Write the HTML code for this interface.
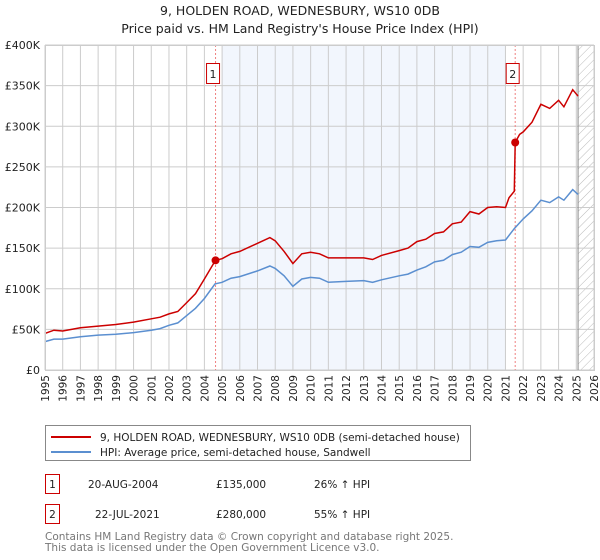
<!DOCTYPE html>
<html><head><meta charset="utf-8"><style>
body{margin:0;background:#fff;font-family:"Liberation Sans","DejaVu Sans",sans-serif;}
svg{display:block}
</style></head><body>
<svg width="600" height="560" xmlns="http://www.w3.org/2000/svg" font-family="DejaVu Sans, Liberation Sans, sans-serif">
<defs><pattern id="hatch" width="6" height="6" patternUnits="userSpaceOnUse" patternTransform="rotate(45)"><line x1="0" y1="0" x2="0" y2="6" stroke="#bbb" stroke-width="1"/></pattern></defs>
<text x="300" y="15" text-anchor="middle" font-size="12.5" fill="#222">9, HOLDEN ROAD, WEDNESBURY, WS10 0DB</text>
<text x="300" y="33" text-anchor="middle" font-size="12.5" fill="#222">Price paid vs. HM Land Registry's House Price Index (HPI)</text>
<g id="plot"></g>
<g>
<rect x="45.5" y="425.5" width="425" height="35" fill="#fff" stroke="#888"/>
<line x1="51" y1="437" x2="91" y2="437" stroke="#cc0000" stroke-width="2"/>
<text x="100" y="441" font-size="10.5" fill="#222">9, HOLDEN ROAD, WEDNESBURY, WS10 0DB (semi-detached house)</text>
<line x1="51" y1="452" x2="91" y2="452" stroke="#5b8fd0" stroke-width="2"/>
<text x="100" y="456" font-size="10.5" fill="#222">HPI: Average price, semi-detached house, Sandwell</text>
</g>
<g font-size="10.5" fill="#222">
<rect x="45.5" y="474.5" width="14" height="19" fill="#fff" stroke="#cc0000"/>
<text x="52.5" y="488" text-anchor="middle">1</text>
<text x="88" y="488">20-AUG-2004</text><text x="216" y="488">£135,000</text><text x="314" y="488">26% ↑ HPI</text>
<rect x="45.5" y="504.5" width="14" height="19" fill="#fff" stroke="#cc0000"/>
<text x="52.5" y="518" text-anchor="middle">2</text>
<text x="95" y="518">22-JUL-2021</text><text x="216" y="518">£280,000</text><text x="314" y="518">55% ↑ HPI</text>
</g>
<text x="45" y="540" font-size="10.5" fill="#777">Contains HM Land Registry data © Crown copyright and database right 2025.</text>
<text x="45" y="551" font-size="10.5" fill="#777">This data is licensed under the Open Government Licence v3.0.</text>
</svg>
<script>
const yearTicks=[1995,1996,1997,1998,1999,2000,2001,2002,2003,2004,2005,2006,2007,2008,2009,2010,2011,2012,2013,2014,2015,2016,2017,2018,2019,2020,2021,2022,2023,2024,2025,2026];
const valueTicks=[0,50,100,150,200,250,300,350,400];
const valueTickLabels=["£0","£50K","£100K","£150K","£200K","£250K","£300K","£350K","£400K"];
const hpiDates=[1995,1995.5,1996,1997,1998,1999,2000,2001,2001.5,2002,2002.5,2003,2003.5,2004,2004.6,2005,2005.5,2006,2007,2007.7,2008,2008.5,2009,2009.5,2010,2010.5,2011,2012,2013,2013.5,2014,2015,2015.5,2016,2016.5,2017,2017.5,2018,2018.5,2019,2019.5,2020,2020.5,2021,2021.5,2022,2022.5,2023,2023.5,2024,2024.3,2024.8,2025.1];
const hpiValues=[35,38,38,41,43,44,46,49,51,55,58,67,76,88,106,108,113,115,122,128,125,116,103,112,114,113,108,109,110,108,111,116,118,123,127,133,135,142,145,152,151,157,159,160,174,186,196,209,206,213,209,222,216];
const propDates=[1995,1995.5,1996,1997,1998,1999,2000,2001,2001.5,2002,2002.5,2003,2003.5,2004,2004.63,2005,2005.5,2006,2007,2007.7,2008,2008.5,2009,2009.5,2010,2010.5,2011,2012,2013,2013.5,2014,2015,2015.5,2016,2016.5,2017,2017.5,2018,2018.5,2019,2019.5,2020,2020.5,2021,2021.2,2021.5,2021.55,2021.8,2022,2022.5,2023,2023.5,2024,2024.3,2024.8,2025.1];
const propValues=[45,49,48,52,54,56,59,63,65,69,72,83,94,112,135,137,143,146,156,163,159,146,131,143,145,143,138,138,138,136,141,147,150,158,161,168,170,180,182,195,192,200,201,200,212,220,280,290,293,305,327,322,332,324,345,337];
const saleDates=[2004.63,2021.55];
const saleValues=[135,280];
const saleLabels=["1","2"];
const NS="http://www.w3.org/2000/svg";
const X0=45,X1=594,Y0=370,Y1=45;
const xs=t=>X0+(t-1995)/(2026-1995)*(X1-X0);
const ys=v=>Y0-v/400*(Y0-Y1);
const g=document.getElementById('plot');
function mk(tag,attrs){const e=document.createElementNS(NS,tag);for(const k in attrs)e.setAttribute(k,attrs[k]);g.appendChild(e);return e;}
let e;
e=mk('rect',{x:xs(2005),y:Y1,width:xs(2021)-xs(2005),height:Y0-Y1,fill:'#f2f6fd'});


e=mk('rect',{x:xs(2025.1),y:Y1,width:X1-xs(2025.1),height:Y0-Y1,fill:'url(#hatch)'});


yearTicks.forEach(t=>{e=mk('line',{x1:xs(t),x2:xs(t),y1:Y1,y2:Y0,stroke:'#ccc','stroke-width':1});


e=mk('text',{x:0,y:0,'font-size':10.5,fill:'#222','text-anchor':'end',transform:`translate(${xs(t)+4},${Y0+5}) rotate(-90)`});
e.textContent=t;

});
valueTicks.forEach((v,i)=>{e=mk('line',{x1:X0,x2:X1,y1:ys(v),y2:ys(v),stroke:'#ccc','stroke-width':1});


e=mk('text',{x:X0-5,y:ys(v)+4,'font-size':11,fill:'#222','text-anchor':'end'});
e.textContent=valueTickLabels[i];

});
e=mk('line',{x1:xs(2025.1),x2:xs(2025.1),y1:Y1,y2:Y0,stroke:'#888','stroke-width':1});


saleDates.forEach((d,i)=>{e=mk('line',{x1:xs(d),x2:xs(d),y1:Y1,y2:Y0,stroke:'#f08080','stroke-width':1,'stroke-dasharray':'2,2'});

});
const path=(ds,vs)=>ds.map((d,i)=>(i?'L':'M')+xs(d).toFixed(1)+','+ys(vs[i]).toFixed(1)).join('');
e=mk('path',{d:path(hpiDates,hpiValues),fill:'none',stroke:'#5b8fd0','stroke-width':1.5});


e=mk('path',{d:path(propDates,propValues),fill:'none',stroke:'#cc0000','stroke-width':1.5});


saleDates.forEach((d,i)=>{e=mk('circle',{cx:xs(d),cy:ys(saleValues[i]),r:4,fill:'#cc0000'});


e=mk('rect',{x:xs(d)-9,y:63.5,width:13,height:20,fill:'#fff',stroke:'#cc0000'});


e=mk('text',{x:xs(d)-2.5,y:78,'font-size':11,fill:'#222','text-anchor':'middle'});
e.textContent=saleLabels[i];

});
e=mk('rect',{x:X0+0.5,y:Y1+0.5,width:X1-X0,height:Y0-Y1,fill:'none',stroke:'#ccc'});


</script>
</body></html>
